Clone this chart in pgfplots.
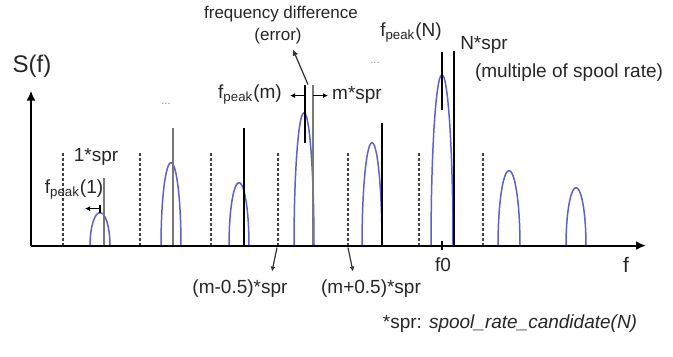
\documentclass[border=0pt]{standalone}
\usepackage{fontspec}
\setmainfont{Liberation Sans}
\usepackage{pgfplots}
\pgfplotsset{compat=1.18}
\usetikzlibrary{arrows.meta}
\definecolor{hump}{RGB}{95,95,205}
\definecolor{lgray}{RGB}{120,120,120}
\newcommand{\fs}[1]{\fontsize{#1}{#1}\selectfont}
\begin{document}
\begin{tikzpicture}
\begin{axis}[scale only axis, width=336.5pt, height=177pt,
  xmin=0, xmax=673, ymin=-111, ymax=243, hide axis, clip=false]
\path (axis cs:0,-111) rectangle (axis cs:673,243);
% humps
\addplot[hump, line width=0.75pt, smooth] coordinates {(90,0)(90.34,8.5)(91.34,16.5)(92.93,23.3)(95,28.6)(97.41,31.9)(100,33)(102.59,31.9)(105,28.6)(107.07,23.3)(108.66,16.5)(109.66,8.5)(110,0)};
\addplot[hump, line width=0.75pt, smooth] coordinates {(161,0)(161.34,21.5)(162.34,41.5)(163.93,58.7)(166,71.9)(168.41,80.2)(171,83)(173.59,80.2)(176,71.9)(178.07,58.7)(179.66,41.5)(180.66,21.5)(181,0)};
\addplot[hump, line width=0.75pt, smooth] coordinates {(229,0)(229.34,16.3)(230.34,31.5)(231.93,44.5)(234,54.6)(236.41,60.9)(239,63)(241.59,60.9)(244,54.6)(246.07,44.5)(247.66,31.5)(248.66,16.3)(249,0)};
\addplot[hump, line width=0.75pt, smooth] coordinates {(294,0)(294.34,34.4)(295.34,66.5)(296.93,94.0)(299,115.2)(301.41,128.5)(304,133)(306.59,128.5)(309,115.2)(311.07,94.0)(312.66,66.5)(313.66,34.4)(314,0)};
\addplot[hump, line width=0.75pt, smooth] coordinates {(362,0)(362.34,26.7)(363.34,51.5)(364.93,72.8)(367,89.2)(369.41,99.5)(372,103)(374.59,99.5)(377,89.2)(379.07,72.8)(380.66,51.5)(381.66,26.7)(382,0)};
\addplot[hump, line width=0.75pt, smooth] coordinates {(431,0)(431.37,44.3)(432.47,85.5)(434.22,120.9)(436.5,148.1)(439.15,165.2)(442,171)(444.85,165.2)(447.5,148.1)(449.78,120.9)(451.53,85.5)(452.63,44.3)(453,0)};
\addplot[hump, line width=0.75pt, smooth] coordinates {(498,0)(498.37,19.4)(499.47,37.5)(501.22,53.0)(503.5,65.0)(506.15,72.5)(509,75)(511.85,72.5)(514.5,65.0)(516.78,53.0)(518.53,37.5)(519.63,19.4)(520,0)};
\addplot[hump, line width=0.75pt, smooth] coordinates {(566,0)(566.34,15.0)(567.34,29)(568.93,41.0)(571,50.2)(573.41,56.0)(576,58)(578.59,56.0)(581,50.2)(583.07,41.0)(584.66,29)(585.66,15.0)(586,0)};
% dashed half-multiples
\addplot[black!75, line width=0.7pt, dash pattern=on 1.5pt off 1pt] coordinates {(63,0)(63,94)};
\addplot[black!75, line width=0.7pt, dash pattern=on 1.5pt off 1pt] coordinates {(140,0)(140,94)};
\addplot[black!75, line width=0.7pt, dash pattern=on 1.5pt off 1pt] coordinates {(211,0)(211,94)};
\addplot[black!75, line width=0.7pt, dash pattern=on 1.5pt off 1pt] coordinates {(278,0)(278,94)};
\addplot[black!75, line width=0.7pt, dash pattern=on 1.5pt off 1pt] coordinates {(348,0)(348,94)};
\addplot[black!75, line width=0.7pt, dash pattern=on 1.5pt off 1pt] coordinates {(419,0)(419,94)};
\addplot[black!75, line width=0.7pt, dash pattern=on 1.5pt off 1pt] coordinates {(483,0)(483,94)};
% spool rate multiples
\addplot[lgray, line width=0.9pt] coordinates {(104,0)(104,68)};
\addplot[lgray, line width=0.9pt] coordinates {(173,0)(173,118)};
\addplot[black, line width=0.8pt] coordinates {(244,0)(244,118)};
\addplot[lgray, line width=0.9pt] coordinates {(313,0)(313,161)};
\addplot[black, line width=0.8pt] coordinates {(305,103)(305,161)};
\addplot[black, line width=0.8pt] coordinates {(382,0)(382,123)};
\addplot[black, line width=0.8pt] coordinates {(442,136)(442,194)};
\addplot[black, line width=0.8pt] coordinates {(454,0)(454,195)};
% axes
\addplot[black, line width=1pt, -{Latex[length=5pt,width=4.5pt]}] coordinates {(31,0)(646,0)};
\addplot[black, line width=1pt, -{Latex[length=5pt,width=4.5pt]}] coordinates {(31,0)(31,155)};
\addplot[black, line width=0.6pt] coordinates {(442,-4)(442,5)};
% small arrows
\addplot[black, line width=0.6pt, -{Latex[length=2.5pt,width=2.5pt]}] coordinates {(100,37)(85,37)};
\addplot[black, line width=0.6pt] coordinates {(100,33)(100,41)};
\addplot[black, line width=0.6pt, -{Latex[length=2.5pt,width=2.5pt]}] coordinates {(305,150)(290,150)};
\addplot[black, line width=0.6pt, -{Latex[length=2.5pt,width=2.5pt]}] coordinates {(313,150)(328,150)};
\addplot[black!80, line width=0.6pt, -{Latex[length=3pt,width=3pt]}] coordinates {(308,161)(293,196)};
\addplot[black!80, line width=0.6pt, -{Latex[length=2.5pt,width=2.5pt]}] coordinates {(277,-2)(272,-26)};
\addplot[black!80, line width=0.6pt, -{Latex[length=2.5pt,width=2.5pt]}] coordinates {(348,-2)(353,-26)};
% texts
\node[text=black!85, font=\fs{12}] at (axis cs:32,179) {S(f)};
\node[text=black!85, font=\fs{9.5}] at (axis cs:96,89) {1*spr};
\node[text=black!85, font=\fs{9.5}] at (axis cs:74,56) {f\textsubscript{peak}(1)};
\node[text=black!45, font=\fs{5.5}] at (axis cs:166,142) {...};
\node[text=black!45, font=\fs{5.5}] at (axis cs:375,183) {...};
\node[text=black!85, font=\fs{9.5}] at (axis cs:250,151) {f\textsubscript{peak}(m)};
\node[text=black!85, font=\fs{9.5}] at (axis cs:357,151) {m*spr};
\node[text=black!85, font=\fs{8.5}] at (axis cs:281,231) {frequency difference};
\node[text=black!85, font=\fs{8.5}] at (axis cs:278,209) {(error)};
\node[text=black!85, font=\fs{9.5}] at (axis cs:411,213) {f\textsubscript{peak}(N)};
\node[text=black!85, font=\fs{9.5}] at (axis cs:484,201) {N*spr};
\node[text=black!85, font=\fs{9.5}] at (axis cs:569,173) {(multiple of spool rate)};
\node[text=black!85, font=\fs{9.5}] at (axis cs:443,-19) {f0};
\node[text=black!85, font=\fs{10.5}] at (axis cs:626,-19) {f};
\node[text=black!85, font=\fs{9.5}] at (axis cs:240,-43) {(m-0.5)*spr};
\node[text=black!85, font=\fs{9.5}] at (axis cs:371,-43) {(m+0.5)*spr};
\node[text=black!85, font=\fs{9.5}] at (axis cs:510,-78) {*spr: \textit{spool\_rate\_candidate(N)}};
\end{axis}
\end{tikzpicture}
\end{document}
